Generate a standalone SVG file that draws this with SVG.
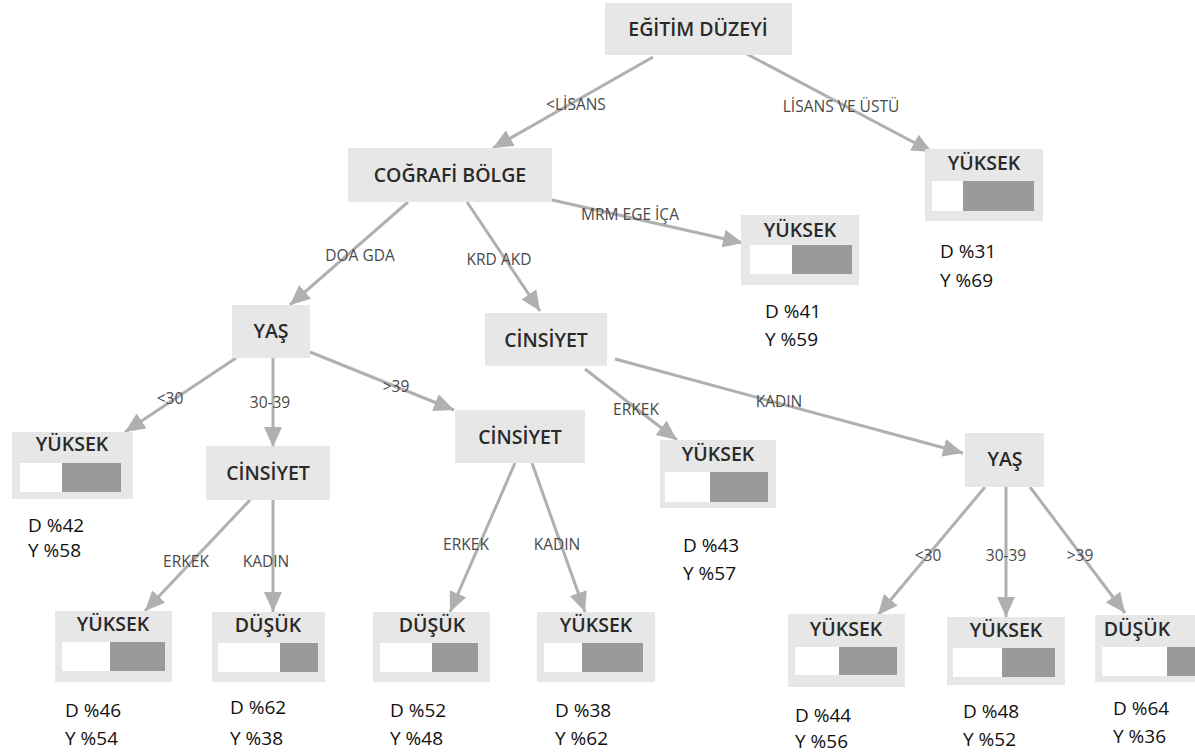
<svg xmlns="http://www.w3.org/2000/svg" width="1195" height="756" viewBox="0 0 1195 756">
<style>
.box{fill:#e7e7e7}
.t{font-family:"Open Sans","Liberation Sans",sans-serif;font-weight:600;font-size:19.5px;fill:#2a2a2a;text-anchor:middle}
.w{fill:#ffffff}
.g{fill:#9a9a9a}
.p{font-family:"Open Sans","Liberation Sans",sans-serif;font-size:19px;fill:#111}
.l{font-family:"Open Sans","Liberation Sans",sans-serif;font-size:15.5px;fill:#4a4a4a;text-anchor:middle}
.c{stroke:#b0b0b0;stroke-width:3;fill:none;marker-end:url(#ah)}
</style>
<defs>
<marker id="ah" markerUnits="userSpaceOnUse" markerWidth="22" markerHeight="18" refX="20" refY="9" orient="auto">
<path d="M0,0 L20,9 L0,18 Z" fill="#b0b0b0"/>
</marker>
</defs>
<rect width="1195" height="756" fill="#ffffff"/>
<g id="connectors">
<line class="c" x1="653" y1="57" x2="493" y2="148"/>
<line class="c" x1="743" y1="52" x2="932" y2="152"/>
<line class="c" x1="408" y1="202" x2="290" y2="305"/>
<line class="c" x1="467" y1="202" x2="540" y2="311"/>
<line class="c" x1="552" y1="200" x2="743" y2="243"/>
<line class="c" x1="236" y1="358" x2="125" y2="432"/>
<line class="c" x1="273" y1="358" x2="273" y2="447"/>
<line class="c" x1="310" y1="352" x2="454" y2="410"/>
<line class="c" x1="585" y1="369" x2="677" y2="440"/>
<line class="c" x1="615" y1="359" x2="963" y2="453"/>
<line class="c" x1="250" y1="500" x2="145" y2="611"/>
<line class="c" x1="273" y1="500" x2="273" y2="612"/>
<line class="c" x1="515" y1="463" x2="450" y2="612"/>
<line class="c" x1="532" y1="463" x2="585" y2="612"/>
<line class="c" x1="985" y1="487" x2="878" y2="615"/>
<line class="c" x1="1006" y1="487" x2="1006" y2="617"/>
<line class="c" x1="1030" y1="487" x2="1125" y2="613"/>
<text class="l" x="576" y="110">&lt;LİSANS</text>
<text class="l" x="841" y="112">LİSANS VE ÜSTÜ</text>
<text class="l" x="360" y="261">DOA GDA</text>
<text class="l" x="499" y="265">KRD AKD</text>
<text class="l" x="630" y="220">MRM EGE İÇA</text>
<text class="l" x="170" y="404">&lt;30</text>
<text class="l" x="270" y="408">30-39</text>
<text class="l" x="396" y="392">&gt;39</text>
<text class="l" x="636" y="415">ERKEK</text>
<text class="l" x="779" y="407">KADIN</text>
<text class="l" x="186" y="567">ERKEK</text>
<text class="l" x="266" y="567">KADIN</text>
<text class="l" x="466" y="550">ERKEK</text>
<text class="l" x="557" y="550">KADIN</text>
<text class="l" x="928" y="561">&lt;30</text>
<text class="l" x="1006" y="561">30-39</text>
<text class="l" x="1080" y="561">&gt;39</text>
</g>
<g id="n-egitim">
<rect class="box" x="605" y="3" width="187" height="52"/>
<text class="t" x="698" y="36">EĞİTİM DÜZEYİ</text>
</g>
<g id="n-cografi">
<rect class="box" x="348" y="148" width="204" height="54"/>
<text class="t" x="450" y="182">COĞRAFİ BÖLGE</text>
</g>
<g id="n-yuksek-lisans">
<rect class="box" x="925" y="149" width="118" height="72"/>
<text class="t" x="984" y="170">YÜKSEK</text>
<rect class="w" x="932" y="181" width="31" height="30"/>
<rect class="g" x="963" y="181" width="71" height="30"/>
<text class="p" x="940" y="258">D %31</text>
<text class="p" x="940" y="287">Y %69</text>
</g>
<g id="n-yuksek-mrm">
<rect class="box" x="741" y="215" width="118" height="70"/>
<text class="t" x="800" y="237">YÜKSEK</text>
<rect class="w" x="750" y="245" width="42" height="29"/>
<rect class="g" x="792" y="245" width="60" height="29"/>
<text class="p" x="765" y="318">D %41</text>
<text class="p" x="765" y="346">Y %59</text>
</g>
<g id="n-yas1">
<rect class="box" x="232" y="305" width="78" height="53"/>
<text class="t" x="271" y="338">YAŞ</text>
</g>
<g id="n-cins-krd">
<rect class="box" x="485" y="313" width="122" height="53"/>
<text class="t" x="546" y="347">CİNSİYET</text>
</g>
<g id="n-yuksek-lt30">
<rect class="box" x="12" y="432" width="121" height="67"/>
<text class="t" x="72" y="451">YÜKSEK</text>
<rect class="w" x="20" y="463" width="42" height="29"/>
<rect class="g" x="62" y="463" width="59" height="29"/>
<text class="p" x="28" y="532">D %42</text>
<text class="p" x="28" y="557">Y %58</text>
</g>
<g id="n-cins-3039">
<rect class="box" x="206" y="446" width="124" height="54"/>
<text class="t" x="268" y="480">CİNSİYET</text>
</g>
<g id="n-cins-gt39">
<rect class="box" x="455" y="410" width="130" height="53"/>
<text class="t" x="520" y="444">CİNSİYET</text>
</g>
<g id="n-yuksek-erkek">
<rect class="box" x="660" y="440" width="116" height="68"/>
<text class="t" x="718" y="461">YÜKSEK</text>
<rect class="w" x="665" y="472" width="45" height="30"/>
<rect class="g" x="710" y="472" width="58" height="30"/>
<text class="p" x="683" y="552">D %43</text>
<text class="p" x="683" y="580">Y %57</text>
</g>
<g id="n-yas2">
<rect class="box" x="965" y="433" width="79" height="54"/>
<text class="t" x="1005" y="466">YAŞ</text>
</g>
<g id="n-b1">
<rect class="box" x="55" y="611" width="117" height="71"/>
<text class="t" x="113" y="631">YÜKSEK</text>
<rect class="w" x="62" y="642" width="48" height="29"/>
<rect class="g" x="110" y="642" width="55" height="29"/>
<text class="p" x="65" y="717">D %46</text>
<text class="p" x="65" y="745">Y %54</text>
</g>
<g id="n-b2">
<rect class="box" x="212" y="612" width="113" height="70"/>
<text class="t" x="268" y="632">DÜŞÜK</text>
<rect class="w" x="218" y="643" width="62" height="29"/>
<rect class="g" x="280" y="643" width="38" height="29"/>
<text class="p" x="230" y="714">D %62</text>
<text class="p" x="230" y="745">Y %38</text>
</g>
<g id="n-b3">
<rect class="box" x="373" y="612" width="117" height="70"/>
<text class="t" x="432" y="632">DÜŞÜK</text>
<rect class="w" x="380" y="643" width="52" height="29"/>
<rect class="g" x="432" y="643" width="46" height="29"/>
<text class="p" x="390" y="717">D %52</text>
<text class="p" x="390" y="745">Y %48</text>
</g>
<g id="n-b4">
<rect class="box" x="537" y="612" width="118" height="70"/>
<text class="t" x="596" y="632">YÜKSEK</text>
<rect class="w" x="544" y="643" width="38" height="29"/>
<rect class="g" x="582" y="643" width="61" height="29"/>
<text class="p" x="555" y="717">D %38</text>
<text class="p" x="555" y="745">Y %62</text>
</g>
<g id="n-b5">
<rect class="box" x="788" y="614" width="117" height="73"/>
<text class="t" x="846" y="636">YÜKSEK</text>
<rect class="w" x="795" y="647" width="44" height="28"/>
<rect class="g" x="839" y="647" width="58" height="28"/>
<text class="p" x="795" y="722">D %44</text>
<text class="p" x="795" y="748">Y %56</text>
</g>
<g id="n-b6">
<rect class="box" x="947" y="617" width="118" height="68"/>
<text class="t" x="1006" y="637">YÜKSEK</text>
<rect class="w" x="953" y="648" width="49" height="29"/>
<rect class="g" x="1002" y="648" width="53" height="29"/>
<text class="p" x="963" y="718">D %48</text>
<text class="p" x="963" y="746">Y %52</text>
</g>
<g id="n-b7">
<rect class="box" x="1095" y="615" width="110" height="67"/>
<text class="t" x="1137" y="636">DÜŞÜK</text>
<rect class="w" x="1102" y="647" width="65" height="29"/>
<rect class="g" x="1167" y="647" width="40" height="29"/>
<text class="p" x="1113" y="715">D %64</text>
<text class="p" x="1113" y="743">Y %36</text>
</g>
</svg>
